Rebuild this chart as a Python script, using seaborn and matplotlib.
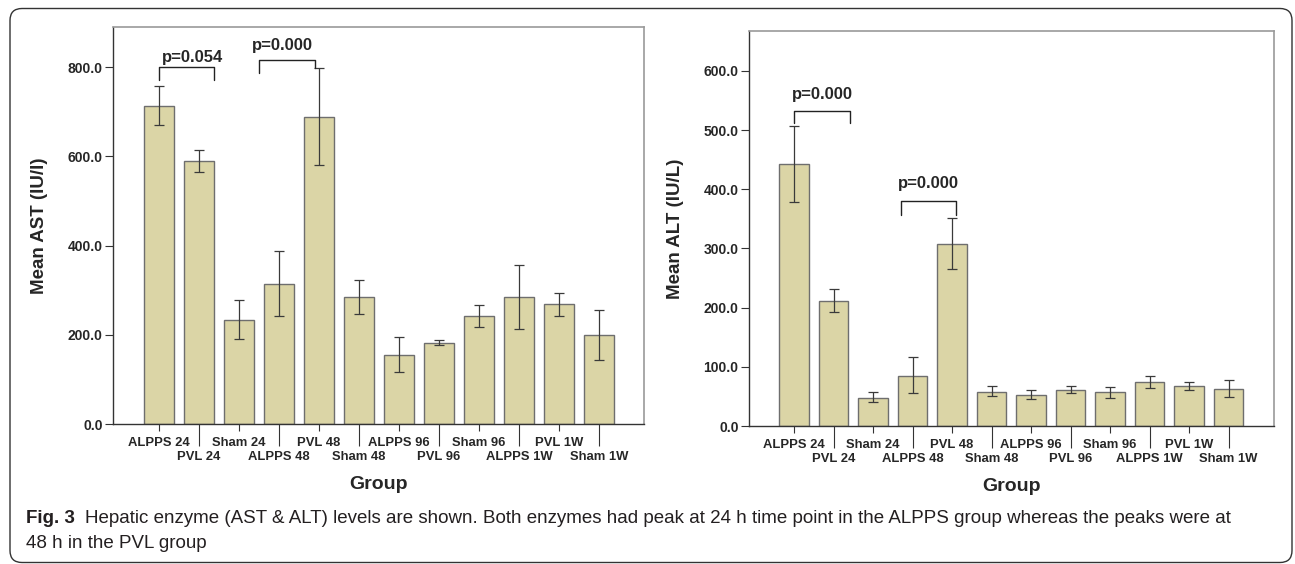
import matplotlib
matplotlib.use('Agg')
import matplotlib.pyplot as plt
import seaborn as sns
import pandas as pd
from matplotlib.patches import FancyBboxPatch

# 데이터
groups = ['ALPPS 24', 'PVL 24', 'Sham 24', 'ALPPS 48', 'PVL 48', 'Sham 48',
          'ALPPS 96', 'PVL 96', 'Sham 96', 'ALPPS 1W', 'PVL 1W', 'Sham 1W']

ast_mean = [713, 590, 234, 314, 689, 284, 155, 182, 242, 285, 268, 199]
ast_low = [670, 565, 191, 242, 580, 246, 117, 176, 218, 212, 243, 144]
ast_high = [757, 615, 278, 387, 797, 323, 194, 188, 267, 357, 294, 255]

alt_mean = [443, 212, 48, 85, 308, 58, 52, 61, 57, 74, 67, 63]
alt_low = [379, 192, 40, 55, 266, 50, 45, 56, 48, 64, 61, 49]
alt_high = [507, 231, 57, 116, 351, 67, 60, 67, 66, 85, 74, 78]

# 유의성 표시: (왼쪽 x, 오른쪽 x, 수평선 y, 왼쪽 다리 끝, 오른쪽 다리 끝, 텍스트 x, 텍스트 y, 텍스트)
ast_brackets = [(0.0, 1.375, 800, 771, 771, 0.85, 822, 'p=0.054'),
                (2.5, 3.9, 816, 786, 797, 3.1, 849, 'p=0.000')]
alt_brackets = [(0.0, 1.42, 532, 512, 512, 0.71, 560, 'p=0.000'),
                (2.71, 4.1, 380, 356, 356, 3.39, 410, 'p=0.000')]

sns.set_style('white')
plt.rcParams['font.family'] = ['Liberation Sans', 'DejaVu Sans']

bar_color = '#dbd5a6'
edge_color = '#6e6e6e'
err_color = '#3a3a3a'

fig = plt.figure(figsize=(12.95, 5.64), dpi=100)

# 바깥 둥근 테두리
border = FancyBboxPatch((0.10, 0.015), 12.82, 5.54,
                        boxstyle='round,pad=0,rounding_size=0.12',
                        transform=fig.dpi_scale_trans, fill=False,
                        edgecolor='#333333', linewidth=1.0)
fig.patches.append(border)


def draw_panel(ax, means, low, high, brackets, xlim, ylim, yticks, ylabel):
    df = pd.DataFrame({'group': groups, 'value': means})
    sns.barplot(data=df, x='group', y='value', color=bar_color, edgecolor=edge_color,
                linewidth=1.0, width=0.75, saturation=1, errorbar=None, ax=ax)
    xs = list(range(len(groups)))
    yerr = [[m - l for m, l in zip(means, low)], [h - m for m, h in zip(means, high)]]
    ax.errorbar(xs, means, yerr=yerr, fmt='none', ecolor=err_color,
                elinewidth=0.9, capsize=3.6, capthick=0.9)

    ax.set_xlim(*xlim)
    ax.set_ylim(*ylim)
    ax.set_yticks(yticks)
    ax.set_yticklabels([f'{t:.1f}' for t in yticks], fontsize=10, fontweight='bold')

    # 짝수 번째는 윗줄, 홀수 번째는 긴 눈금 아래 둘째 줄
    even = xs[0::2]
    odd = xs[1::2]
    ax.set_xticks(even)
    ax.set_xticklabels([groups[i] for i in even], fontsize=9.4, fontweight='bold')
    ax.set_xticks(odd, minor=True)
    ax.set_xticklabels([groups[i] for i in odd], minor=True, fontsize=9.4, fontweight='bold')
    ax.tick_params(axis='x', which='major', length=5, width=0.8, color='#333333',
                   pad=4, bottom=True)
    ax.tick_params(axis='x', which='minor', length=15.8, width=0.8, color='#333333',
                   pad=4, bottom=True)
    ax.tick_params(axis='y', length=5.5, width=0.8, color='#333333', pad=2, left=True)

    ax.set_xlabel('Group', fontsize=14, fontweight='bold', labelpad=9)
    ax.set_ylabel(ylabel, fontsize=13.5, fontweight='bold', labelpad=14)

    for side in ['top', 'right']:
        ax.spines[side].set_color('#9a9a9a')
        ax.spines[side].set_linewidth(1.2)
    for side in ['left', 'bottom']:
        ax.spines[side].set_color('#333333')
        ax.spines[side].set_linewidth(1.0)

    for x0, x1, yb, yl0, yl1, tx, ty, txt in brackets:
        ax.plot([x0, x0, x1, x1], [yl0, yb, yb, yl1], color='#222222', linewidth=1.0)
        ax.text(tx, ty, txt, ha='center', va='center', fontsize=12, fontweight='bold')


ax1 = fig.add_axes([113 / 1295, 140 / 564, 531 / 1295, 397 / 564])
draw_panel(ax1, ast_mean, ast_low, ast_high, ast_brackets, (-1.15, 12.13), (0, 890),
           [0, 200, 400, 600, 800], 'Mean AST (IU/l)')

ax2 = fig.add_axes([749 / 1295, 138 / 564, 525 / 1295, 395 / 564])
draw_panel(ax2, alt_mean, alt_low, alt_high, alt_brackets, (-1.14, 12.15), (0, 667.6),
           [0, 100, 200, 300, 400, 500, 600], 'Mean ALT (IU/L)')

# 캡션
cap_color = '#231f20'
cap_size = 13.5
t1 = fig.text(26 / 1295, 1 - 523 / 564, 'Fig. 3', fontsize=cap_size, fontweight='bold',
              color=cap_color, va='baseline', ha='left')
fig.canvas.draw()
bb = t1.get_window_extent()
fig.text((bb.x1 + 10) / 1295, 1 - 523 / 564,
         'Hepatic enzyme (AST & ALT) levels are shown. Both enzymes had peak at 24 h time point '
         'in the ALPPS group whereas the peaks were at',
         fontsize=cap_size, color=cap_color, va='baseline', ha='left')
fig.text(26 / 1295, 1 - 548 / 564, '48 h in the PVL group', fontsize=cap_size,
         color=cap_color, va='baseline', ha='left')

fig.savefig('out.png', dpi=100)
